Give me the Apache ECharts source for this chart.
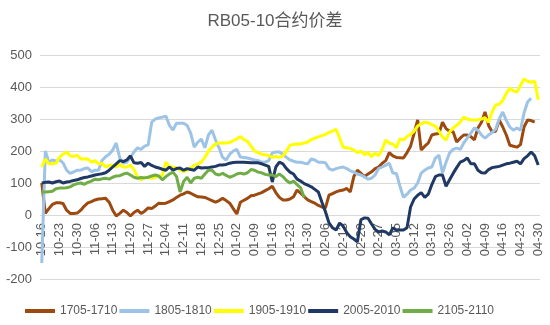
<!DOCTYPE html>
<html>
<head>
<meta charset="utf-8">
<script src="https://cdn.jsdelivr.net/npm/echarts@6/dist/echarts.min.js"></script>
<style>
html,body{margin:0;padding:0;background:#fff;}
#chart{width:550px;height:325px;}
</style>
</head>
<body>
<div id="chart"></div>
<script>
var tickLabels = ['10-16','10-23','10-30','11-06','11-13','11-20','11-27','12-04','12-11','12-18','12-25','01-02','01-09','01-16','01-23','01-30','02-06','02-13','02-20','02-27','03-05','03-12','03-19','03-26','04-02','04-09','04-16','04-23','04-30'];
var seriesNames = ['1705-1710','1805-1810','1905-1910','2005-2010','2105-2110'];

var s1705 = [100,5,20,33,38, 38,36,15,5,5, 6,15,28,38,42, 47,50,51,52,40, 15,-3,5,15,8, -3,8,15,5,12,
 22,20,28,37,36, 37,42,47,55,62, 66,72,68,62,57, 56,55,50,45,40, 45,52,45,37,20, 3,40,46,52,60,
 62,66,70,76,82, 90,70,55,47,47, 50,57,78,68,58, 47,42,37,30,25, 22,62,67,72,76, 78,83,72,120,140,
 130,120,128,135,145, 150,162,170,195,185, 180,179,178,195,215, 255,297,203,215,225, 250,253,255,290,270,
 262,260,228,240,250, 250,245,235,272,290, 322,280,260,262,297, 275,250,218,215,212, 220,275,297,295,290, null];

var s1805 = [-150,200,165,172,168, 172,163,140,130,135, 140,140,145,147,135, 140,140,170,182,190, 203,225,178,162,165,
 180,197,210,205,215, 219,290,300,303,306, 309,280,265,287,287, 287,280,256,212,228, 237,210,250,265,234,
 210,180,172,190,200, 205,181,180,178,175, 172,170,165,165,170, 194,197,197,190,180, 172,168,165,165,162,
 160,175,172,165,165, 163,145,140,145,148, 150,145,138,134,128, 125,119,112,115,125, 145,150,156,162,131,
 130,90,55,65,78, 84,100,131,140,147, 150,178,187,131,165, 194,205,209,205,225, 240,256,272,265,250,
 240,250,258,268,300, 322,295,275,265,272, 265,319,353,365,null, null];

var s1905 = [150,175,160,160,162, 180,190,197,185,183, 187,175,176,175,165, 170,160,162,150,155, 156,150,158,150,150,
 156,142,120,110,118, 117,115,118,120,125, 165,150,150,148,140, 136,140,147,155,160, 165,180,200,212,222,
 225,225,225,227,232, 238,245,236,230,215, 200,195,190,188,186, 180,183,180,185,200, 218,220,222,222,225,
 228,236,240,244,248, 252,258,262,268,240, 212,210,208,203,195, 200,188,196,182,194, 185,205,234,225,222,
 210,238,235,245,252, 262,278,285,290,288, 282,278,262,244,234, 259,272,280,290,306, 300,297,297,298,300,
 304,290,322,344,346, 358,380,396,388,384, 405,425,418,415,418, 360];

var s2005 = [100,102,103,100,104, 106,100,103,105,108, 110,114,117,119,122, 125,127,129,132,140, 150,160,170,167,172,
 185,163,162,164,152, 162,155,150,147,143, 140,150,140,145,147, 140,145,142,140,150, 147,148,148,150,152,
 156,156,158,162,164, 165,165,165,164,163, 163,163,160,156,152, 103,150,165,160,145, 134,128,112,106,98,
 93,88,80,72,40, 10,-25,-40,-47,-25, -35,-55,-68,-75,-84, -15,-9,-10,-28,-45, -53,-50,-53,-62,-40,
 -47,-47,-47,-40,25, 50,62,70,55,65, 95,120,125,125,90, 110,130,148,165,170, 178,160,160,140,132,
 131,142,148,150,152, 156,160,162,165,168, 160,176,185,197,185, 156];

var s2105 = [72,72,73,74,82, 84,84,85,88,94, 98,100,96,102,106, 112,110,113,115,112, 118,122,123,128,131,
 125,118,115,117,116, 118,122,125,122,110, 120,128,134,120,72, 105,118,100,115,118, 115,128,140,140,128,
 125,130,124,118,122, 128,131,128,132,142, 140,134,132,127,125, 125,120,128,120,108, 100,106,95,85,55];

var colors = ['#9C4A10','#9DC3E6','#FFFF00','#203864','#70AD47'];

// trading-day categories: five days per labelled week
function addDays(md, n) {
  var p = md.split('-');
  var d = new Date(2019, parseInt(p[0],10)-1, parseInt(p[1],10) + n);
  var m = d.getMonth()+1, dd = d.getDate();
  return (m<10?'0':'')+m+'-'+(dd<10?'0':'')+dd;
}
var categories = [];
for (var k = 0; k < tickLabels.length - 1; k++) {
  for (var j = 0; j < 5; j++) categories.push(j === 0 ? tickLabels[k] : addDays(tickLabels[k], j));
}
categories.push(tickLabels[tickLabels.length-1]);

var font = 'Liberation Sans, Arial, Noto Sans CJK SC, sans-serif';
var allData = [s1705, s1805, s1905, s2005, s2105];
var series = seriesNames.map(function(n, i){
  return {
    name: n, type: 'line', data: allData[i], showSymbol: false, symbol: 'none',
    lineStyle: {width: 3, color: colors[i]}, itemStyle: {color: colors[i]},
    connectNulls: false, animation: false
  };
});

var chart = echarts.init(document.getElementById('chart'));
chart.setOption({
  animation: false,
  backgroundColor: '#ffffff',
  title: {text: 'RB05-10合约价差', left: 'center', top: 8,
    textStyle: {fontSize: 17, fontWeight: 'normal', color: '#595959', fontFamily: font}},
  grid: {left: 40, right: 10, top: 55, bottom: 46, containLabel: false},
  legend: {left: 20, top: 300, icon: 'rect', itemWidth: 30, itemHeight: 4, itemGap: 2,
    textStyle: {fontSize: 12, color: '#595959', fontFamily: font}, data: seriesNames},
  xAxis: {type: 'category', data: categories, boundaryGap: true, offset: -64,
    axisLine: {show: false, onZero: false},
    axisTick: {show: false},
    axisLabel: {interval: 4, rotate: 90, color: '#595959', fontSize: 13, fontFamily: font, margin: 8}},
  yAxis: {type: 'value', min: -200, max: 500, interval: 100,
    axisLine: {show: false}, axisTick: {show: false},
    axisLabel: {color: '#595959', fontSize: 13, fontFamily: font, margin: 8},
    splitLine: {lineStyle: {color: '#D9D9D9', width: 1}}},
  series: series
});
</script>
</body>
</html>
